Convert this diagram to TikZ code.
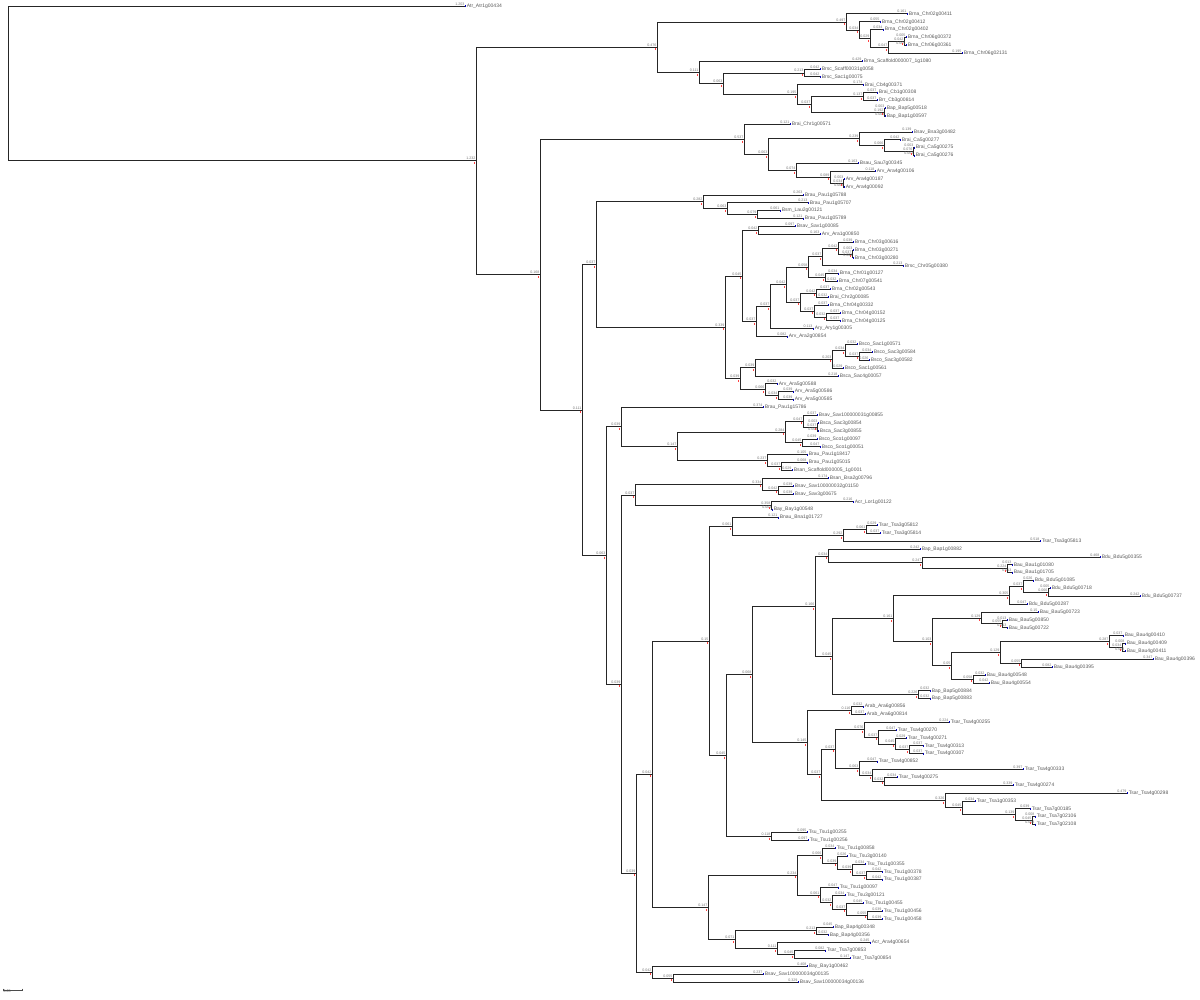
\documentclass[tikz,border=0pt]{standalone}
\usepackage{fontspec}
\setmainfont{Liberation Sans}
\usetikzlibrary{calc}

\begin{document}
\begin{tikzpicture}[x=1pt, y=-7.871pt,
    branch/.style={draw=black!85, line width=0.8pt},
    blen/.style={anchor=south east, inner sep=0.3pt, yshift=0.2pt, text=black!55, font=\fontsize{3.6}{3.6}\selectfont},
    leaf/.style={anchor=west, inner xsep=1.6pt, inner ysep=0.4pt, text=black!65, font=\fontsize{5}{5}\selectfont},
    nodetick/.style={draw=red!75, line width=0.45pt},
    leaftick/.style={draw=blue!75!black, line width=0.5pt}]

\useasboundingbox (0pt,6pt) rectangle (1200pt,-994pt);

% inner nodes (x in px, y in leaf rows)
\foreach \nd/\x/\y in {R/8/9.84, A/476/19.68, B/657/5.234, B1/846/2.031, n859/859/3.0625, n870/870/4.125,
    n888/888/5.25, n904/904/4.5, B2/699/8.4375, n723/723/9.875, n804/804/8.5, n797/797/11.25, n811/811/12.5,
    n863/863/11.5, n884/884/13.5, C/540/34.13, C1/744/16.9375, n768/768/18.875, n859b/859/16.875,
    n884b/884/17.75, n913/913/18.5, n796/796/20.875, n830/830/21.75, n843/843/22.5, C2/582/51.33,
    D/596/32.85, D1/703/24.875, n727/727/25.75, n757/757/26.5, D2/725/40.82, n742/742/34.30, n758/758/28.5,
    n756/756/40.10, n770/770/38.203, n786/786/35.406, n808/808/33.1875, n822/822/31.875, n838/838/30.75,
    n852/852/31.5, n825/825/34.5, n800/800/37.625, n816/816/36.5, n814/814/38.75, n826/826/39.5,
    n740/740/47.34, n755/755/45.9375, n832/832/44.875, n845/845/43.75, n859c/859/44.5, n765/765/48.75,
    n778/778/49.5, E/606/69.81, E1/621/53.47, n677/677/55.94, n785/785/54.125, n803/803/52.75,
    n817/817/53.5, n802/802/55.5, n767/767/57.75, n781/781/58.5, F/621/86.15, F1/635/62.125,
    n762/762/60.75, n778b/778/61.5, n771/771/63.5, G/636/110.18, H/652/97.60, I/709/80.67,
    I1/732/66.125, n843b/843/67.25, n866/866/66.5, K/726/95.21, L/752/84.93, n815/815/76.27,
    n828/828/69.875, n922/922/70.75, n1007/1007/71.5, n832b/832/82.66, n893/893/77.83,
    n1009/1009/74.875, n1023/1023/73.75, n1048/1048/74.5, n932/932/80.78, n982/981/77.75,
    n1000b/1002/78.5, n951/951/83.81, n1000/1000/82.125, n1109/1109/80.75, n1122/1122/81.5,
    n1021/1021/83.5, n973/973/85.5, n918/918/87.5, n807/807/93.59, n851/851/89.5, n821/821/97.67,
    n835/835/94.41, n864/864/91.9375, n878/878/92.875, n895/895/93.75, n909/909/94.5,
    n859d/859/96.875, n872/872/97.75, n884c/884/98.5, n945/945/100.9375, n962/962/101.875,
    n1015/1015/102.75, n1032/1032/103.5, n771b/771/105.5, J/708/114.53, n797b/797/110.4375,
    n822b/822/107.9375, n837/837/108.875, n852b/852/109.75, n866b/866/110.5, n820/820/112.9375,
    n832c/832/113.875, n846/846/114.75, n867/867/115.5, n735/735/118.625, n816b/816/117.5,
    n777/777/119.75, n794/794/120.5, G2/652/122.75, n673/673/123.5}
  \coordinate (\nd) at (\x,\y);

% leaves (row / tip x / name)
\foreach \k/\x/\txt in {0/465/Atr\_Atr1g00434,
    1/907/Brna\_Chr02g00411, 2/880/Brna\_Chr02g00412, 3/883/Brna\_Chr02g00402, 4/906/Brna\_Chr06g00372,
    5/906/Brna\_Chr06g00361, 6/962/Brna\_Chr06g02131, 7/862/Brna\_Scaffold000007\_1g1080,
    8/820/Brsc\_Scaff00031g0058, 9/820/Brsc\_Sac1g00075, 10/863/Brai\_Cb4g00371, 11/877/Brai\_Cb1g00308,
    12/877/Brr\_Cb3g00814, 13/885/Bap\_Bap5g00518, 14/885/Bap\_Bap1g00597, 15/790/Brai\_Chr1g00571,
    16/912/Bsav\_Bsa3g00482, 17/900/Brai\_Ca5g00277, 18/914/Brai\_Ca5g00275, 19/914/Brai\_Ca5g00276,
    20/858/Bsau\_Sau7g00345, 21/875/Arv\_Ara4g00106, 22/844/Arv\_Ara4g00187, 23/844/Arv\_Ara4g00092,
    24/803/Brau\_Pau1g05788, 25/808/Brau\_Pau1g05707, 26/780/Bsm\_Lau2g00121, 27/803/Brau\_Pau1g05789,
    28/795/Bsav\_Sav1g00085, 29/820/Arv\_Ara1g00850, 30/853/Brna\_Chr03g00616, 31/853/Brna\_Chr03g00271,
    32/853/Brna\_Chr03g00280, 33/903/Brsc\_Chr05g00380, 34/838/Brna\_Chr01g00127, 35/837/Brna\_Chr07g00541,
    36/830/Brna\_Chr02g00543, 37/828/Brai\_Chr2g00085, 38/828/Brna\_Chr04g00332, 39/840/Brna\_Chr04g00152,
    40/840/Brna\_Chr04g00125, 41/813/Ary\_Ary1g00305, 42/787/Arv\_Ara2g00854, 43/857/Bsco\_Sac1g00571,
    44/872/Bsco\_Sac3g00584, 45/869/Bsco\_Sac3g00582, 46/843/Bsco\_Sac1g00561, 47/838/Bsca\_Sac4g00057,
    48/777/Arv\_Ara5g00588, 49/793/Arv\_Ara5g00586, 50/793/Arv\_Ara5g00585, 51/763/Brau\_Pau1g15786,
    52/817/Bsav\_Sav100000031g00855, 53/818/Bsca\_Sac3g00854, 54/818/Bsca\_Sac3g00855, 55/817/Bsco\_Sco1g00097,
    56/820/Bsco\_Sco1g00051, 57/807/Brau\_Pau1g18417, 58/807/Brau\_Pau1g05015, 59/792/Bsan\_Scaffold000005\_1g0001,
    60/828/Bsan\_Bsa2g00796, 61/793/Bsav\_Sav100000032g01150, 62/793/Bsav\_Sav3g00675, 63/853/Acr\_Lor1g00122,
    64/772/Bay\_Bay1g00548, 65/778/Bnau\_Bna1g01727, 66/877/Tsar\_Tsa3g05812, 67/880/Tsar\_Tsa3g05814,
    68/1040/Tsar\_Tsa3g05813, 69/920/Bap\_Bap1g00882, 70/1100/Bdu\_Bdu5g00355, 71/1012/Bau\_Bau1g01080,
    72/1012/Bau\_Bau1g01705, 73/1033/Bdu\_Bdu5g01085, 74/1050/Bdu\_Bdu5g00718, 75/1140/Bdu\_Bdu5g00737,
    76/1027/Bdu\_Bdu5g00287, 77/1038/Bau\_Bau5g00723, 78/1007/Bau\_Bau5g00850, 79/1007/Bau\_Bau5g00722,
    80/1123/Bau\_Bau4g00410, 81/1125/Bau\_Bau4g00409, 82/1125/Bau\_Bau4g00411, 83/1153/Bau\_Bau4g00396,
    84/1052/Bau\_Bau4g00395, 85/985/Bau\_Bau4g00548, 86/989/Bau\_Bau4g00554, 87/930/Bap\_Bap5g00884,
    88/930/Bap\_Bap5g00883, 89/863/Arab\_Ara6g00856, 90/865/Arab\_Ara6g00814, 91/949/Tsar\_Tsa4g00255,
    92/896/Tsar\_Tsa4g00270, 93/906/Tsar\_Tsa4g00271, 94/923/Tsar\_Tsa4g00313, 95/923/Tsar\_Tsa4g00307,
    96/877/Tsar\_Tsa4g00852, 97/1023/Tsar\_Tsa4g00333, 98/897/Tsar\_Tsa4g00275, 99/1013/Tsar\_Tsa4g00274,
    100/1127/Tsar\_Tsa4g00298, 101/975/Tsar\_Tsa1g00353, 102/1030/Tsar\_Tsa7g00185, 103/1035/Tsar\_Tsa7g02106,
    104/1035/Tsar\_Tsa7g02108, 105/807/Tsu\_Tsu1g00255, 106/808/Tsu\_Tsu1g00256, 107/835/Tsu\_Tsu1g00858,
    108/847/Tsu\_Tsu3g00140, 109/865/Tsu\_Tsu1g00355, 110/882/Tsu\_Tsu1g00378, 111/882/Tsu\_Tsu1g00387,
    112/838/Tsu\_Tsu1g00097, 113/845/Tsu\_Tsu3g00121, 114/863/Tsu\_Tsu1g00455, 115/882/Tsu\_Tsu1g00456,
    116/882/Tsu\_Tsu1g00458, 117/833/Bap\_Bap4g00348, 118/828/Bap\_Bap4g00356, 119/870/Acr\_Ara4g00654,
    120/825/Tsar\_Tsa7g00853, 121/850/Tsar\_Tsa7g00854, 122/807/Bay\_Bay1g00462,
    123/763/Bsav\_Sav100000034g00135, 124/798/Bsav\_Sav100000034g00136}
  \node[leaf] (l\k) at (\x,\k) {\txt};

% branches, labelled with their length
\foreach \a/\b in {R/l0.west, R/A, A/B, A/C, B/B1, B/B2,
    B1/l1.west, B1/n859, n859/l2.west, n859/n870, n870/l3.west, n870/n888, n888/n904, n888/l6.west,
    n904/l4.west, n904/l5.west,
    B2/l7.west, B2/n723, n723/n804, n723/n797, n804/l8.west, n804/l9.west, n797/l10.west, n797/n811,
    n811/n863, n811/n884, n863/l11.west, n863/l12.west, n884/l13.west, n884/l14.west,
    C/C1, C/C2,
    C1/l15.west, C1/n768, n768/n859b, n768/n796, n859b/l16.west, n859b/n884b, n884b/l17.west, n884b/n913,
    n913/l18.west, n913/l19.west, n796/l20.west, n796/n830, n830/l21.west, n830/n843, n843/l22.west, n843/l23.west,
    C2/D, C2/E, D/D1, D/D2,
    D1/l24.west, D1/n727, n727/l25.west, n727/n757, n757/l26.west, n757/l27.west,
    D2/n742, D2/n740, n742/n758, n742/n756, n758/l28.west, n758/l29.west,
    n756/n770, n756/l42.west, n770/n786, n770/l41.west, n786/n808, n786/n800,
    n808/n822, n808/n825, n822/n838, n822/l33.west, n838/l30.west, n838/n852, n852/l31.west, n852/l32.west,
    n825/l34.west, n825/l35.west,
    n800/n816, n800/n814, n816/l36.west, n816/l37.west, n814/l38.west, n814/n826, n826/l39.west, n826/l40.west,
    n740/n755, n740/n765, n755/n832, n755/l47.west, n832/n845, n832/l46.west, n845/l43.west, n845/n859c,
    n859c/l44.west, n859c/l45.west, n765/l48.west, n765/n778, n778/l49.west, n778/l50.west,
    E/E1, E/F,
    E1/l51.west, E1/n677, n677/n785, n677/n767, n785/n803, n785/n802, n803/l52.west, n803/n817,
    n817/l53.west, n817/l54.west, n802/l55.west, n802/l56.west, n767/l57.west, n767/n781,
    n781/l58.west, n781/l59.west,
    F/F1, F/G,
    F1/n762, F1/n771, n762/l60.west, n762/n778b, n778b/l61.west, n778b/l62.west, n771/l63.west, n771/l64.west,
    G/H, G/G2, H/I, H/J, I/I1, I/K,
    I1/l65.west, I1/n843b, n843b/n866, n843b/l68.west, n866/l66.west, n866/l67.west,
    K/L, K/n771b, L/n815, L/n807, n815/n828, n815/n832b,
    n828/l69.west, n828/n922, n922/l70.west, n922/n1007, n1007/l71.west, n1007/l72.west,
    n832b/n893, n832b/n918, n893/n1009, n893/n932,
    n1009/n1023, n1009/l76.west, n1023/l73.west, n1023/n1048, n1048/l74.west, n1048/l75.west,
    n932/n982, n932/n951, n982/l77.west, n982/n1000b, n1000b/l78.west, n1000b/l79.west,
    n951/n1000, n951/n973, n1000/n1109, n1000/n1021, n1109/l80.west, n1109/n1122, n1122/l81.west,
    n1122/l82.west, n1021/l83.west, n1021/l84.west, n973/l85.west, n973/l86.west,
    n918/l87.west, n918/l88.west,
    n807/n851, n807/n821, n851/l89.west, n851/l90.west, n821/n835, n821/n945, n835/n864, n835/n859d,
    n864/l91.west, n864/n878, n878/l92.west, n878/n895, n895/l93.west, n895/n909, n909/l94.west, n909/l95.west,
    n859d/l96.west, n859d/n872, n872/l97.west, n872/n884c, n884c/l98.west, n884c/l99.west,
    n945/l100.west, n945/n962, n962/l101.west, n962/n1015, n1015/l102.west, n1015/n1032,
    n1032/l103.west, n1032/l104.west,
    n771b/l105.west, n771b/l106.west,
    J/n797b, J/n735, n797b/n822b, n797b/n820,
    n822b/l107.west, n822b/n837, n837/l108.west, n837/n852b, n852b/l109.west, n852b/n866b,
    n866b/l110.west, n866b/l111.west,
    n820/l112.west, n820/n832c, n832c/l113.west, n832c/n846, n846/l114.west, n846/n867,
    n867/l115.west, n867/l116.west,
    n735/n816b, n735/n777, n816b/l117.west, n816b/l118.west, n777/l119.west, n777/n794,
    n794/l120.west, n794/l121.west,
    G2/l122.west, G2/n673, n673/l123.west, n673/l124.west}
{
  \draw[branch] let \p1=(\a), \p2=(\b) in
    (\a) |- (\b) node[blen] {\pgfmathparse{(\x2-\x1)/380}%
      \pgfmathprintnumber[fixed,precision=3,assume math mode=true]{\pgfmathresult}};
}

% node and tip marks
\foreach \nd in {A, B, B1, n859, n870, n888, n904, B2, n723, n804, n797, n811, n863, n884, C, C1, n768,
    n859b, n884b, n913, n796, n830, n843, C2, D, D1, n727, n757, D2, n742, n758, n756, n770, n786, n808,
    n822, n838, n852, n825, n800, n816, n814, n826, n740, n755, n832, n845, n859c, n765, n778, E, E1,
    n677, n785, n803, n817, n802, n767, n781, F, F1, n762, n778b, n771, G, H, I, I1, n843b, n866, K, L,
    n815, n828, n922, n1007, n832b, n893, n1009, n1023, n1048, n932, n982, n1000b, n951, n1000, n1109,
    n1122, n1021, n973, n918, n807, n851, n821, n835, n864, n878, n895, n909, n859d, n872, n884c, n945,
    n962, n1015, n1032, n771b, J, n797b, n822b, n837, n852b, n866b, n820, n832c, n846, n867, n735, n816b,
    n777, n794, G2, n673}
  \draw[nodetick] (\nd) ++(-2pt,-1.2pt) -- ++(0,-2pt);
\foreach \k in {0,...,124}
  \draw[leaftick] (l\k.west) ++(0.4pt,1pt) -- ++(0,-2pt);

% scale bar
\coordinate (sbl) at (3,125.0);
\coordinate (sbr) at (22,125.0);
\draw[draw=black!70, line width=0.6pt] (sbl) -- (sbr);
\draw[draw=black!70, line width=0.6pt] (sbl) ++(0,1.2pt) -- ++(0,-2.4pt);
\draw[draw=black!70, line width=0.6pt] (sbr) ++(0,1.2pt) -- ++(0,-2.4pt);
\node[blen, anchor=north west, text=black!70] (sblabel) at (sbl) {0.05};
\end{tikzpicture}
\end{document}
